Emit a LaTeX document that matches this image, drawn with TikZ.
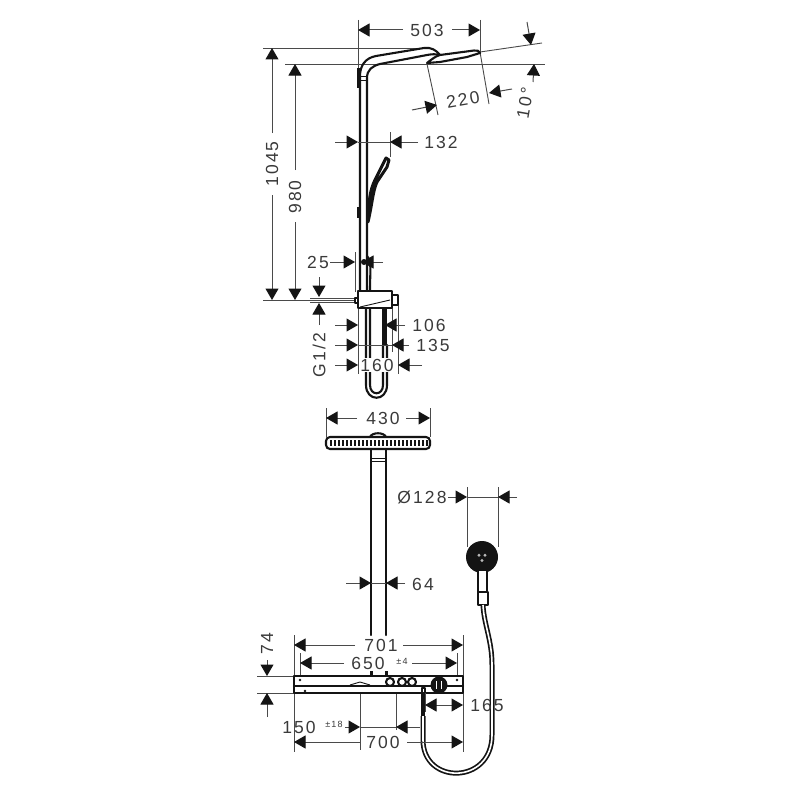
\documentclass[tikz,border=0pt]{standalone}
\usepackage{fontspec}
\setmainfont[LetterSpace=12]{Liberation Sans}
\usetikzlibrary{arrows.meta}
\definecolor{ink}{HTML}{141414}
\definecolor{dimc}{HTML}{4A4A4A}
\definecolor{txt}{HTML}{3A3A3A}
\tikzset{
  ext/.style={draw=dimc,line width=0.9pt},
  dimarrow/.style={draw=dimc,line width=1pt,-{Triangle[length=11.5pt,width=13pt,color=ink]}},
  lab/.style={text=txt,font=\fontsize{17.5}{17.5}\selectfont,inner sep=0pt},
  small/.style={text=txt,font=\fontsize{9}{9}\selectfont,inner sep=0pt},
  body/.style={draw=ink,line width=2.1pt,line join=round,line cap=round},
  heavy/.style={draw=ink,line width=3pt,line join=round,line cap=round},
  thin/.style={draw=ink,line width=0.9pt}
}
\begin{document}
\begin{tikzpicture}[x=1pt,y=-1pt]
\useasboundingbox (0,0) rectangle (800,800);
\fill[white] (0,0) rectangle (800,800);

% ---- side view: extension lines
\draw[ext] (358,20)--(358,70);
\draw[ext] (480,20)--(480,53);
\draw[ext] (263,48)--(430,48);
\draw[ext] (285,64)--(545,64);
\draw[ext] (263,300)--(355,300);
\draw[ext] (310,298)--(355,298);
\draw[ext] (310,302)--(355,302);
\draw[ext] (480,52)--(542,43);
\draw[ext] (427,64)--(438,115);
\draw[ext] (480,52)--(489,104);
\draw[ext] (390,132)--(390,157);
\draw[ext] (355,252)--(355,292);
\draw[ext] (358,308)--(358,374);
\draw[ext] (385,308)--(385,332);
\draw[ext] (392,308)--(392,352);
\draw[ext] (398,305)--(398,374);

% ---- side view: shower
\draw[body] (360,290)--(360,76) .. controls (360,66) and (365,58) .. (376,56)
  --(424,48) .. controls (431,47) and (436,50) .. (440,55);
\draw[body] (367,290)--(367,78) .. controls (367,70) and (372,66) .. (380,64)--(427,55)
  .. controls (432,54) and (436,54) .. (440,55);
\draw[body] (427,63) .. controls (432,59) and (436,56) .. (440,55)--(474,50.5)
  .. controls (477,50) and (480,51) .. (480,53)--(467,57)--(440,62)--cycle;
\fill[ink] (357,68) rectangle (361,88);
\fill[ink] (357,207) rectangle (361,218);
\draw[thin] (360,76)--(367,76);\draw[thin] (360,80)--(367,80);
% hand shower, side
\draw[heavy] (368,218) .. controls (369,200) and (370,190) .. (375,180)
  --(386,158)--(389,160)--(387,167)--(377,182) .. controls (373,190) and (372,205) .. (368,222);
\draw[thin] (371,206)--(374,190);
% holder
\draw[body] (367,256) .. controls (372,262) and (370,270) .. (370,291);
\draw[body] (360,256)--(360,291);
\fill[ink] (364,262) circle (3);
\draw[body,fill=white] (358,291) rectangle (392,308);
\draw[thin] (360,307)--(390,300);
\draw[body,fill=white] (392,295) rectangle (398,305);
\draw[body,fill=white] (355,298) rectangle (358,303);
% hose, side
\draw[body] (366,308)--(366,385) .. controls (366,402) and (387,402) .. (387,385)--(387,345);
\draw[body] (370,308)--(370,385) .. controls (370,396) and (383,396) .. (383,385)--(383,345);
\fill[ink] (382,308) rectangle (387,345);

% ---- side view: dimensions
\draw[dimarrow] (403,30)--(358,30);
\draw[dimarrow] (452,30)--(480,30);
\node[lab] (d503) at (427,30) {503};
\draw[dimarrow] (272,133)--(272,48);
\draw[dimarrow] (272,195)--(272,300);
\node[lab,rotate=90] (d1045) at (272,164) {1045};
\draw[dimarrow] (295,170)--(295,64);
\draw[dimarrow] (295,222)--(295,300);
\node[lab,rotate=90] (d980) at (295,197) {980};
\draw[dimarrow] (527,22)--(531,45);
\draw[dimarrow] (533,82)--(534,64);
\node[lab,rotate=80] (d10) at (525,103) {10°};
\draw[dimarrow] (412,110)--(437,105);
\draw[dimarrow] (512,89)--(489,93);
\node[lab,rotate=10] (d220) at (463,100) {220};
\draw[dimarrow] (335,142)--(358,142);
\draw[dimarrow] (418,142)--(390,142);
\draw[ext] (358,142)--(390,142);
\node[lab] (d132) at (441,142) {132};
\draw[dimarrow] (330,262)--(355,262);
\draw[dimarrow] (383,262)--(362,262);
\node[lab] (d25) at (318,262) {25};
\draw[dimarrow] (319,277)--(319,297);
\draw[dimarrow] (319,325)--(319,303);
\node[lab,rotate=90] (dg) at (319,355) {G1/2};
\draw[dimarrow] (335,325)--(358,325);
\draw[dimarrow] (405,325)--(385,325);
\node[lab] (d106) at (429,325) {106};
\draw[dimarrow] (335,345)--(358,345);
\draw[dimarrow] (409,345)--(392,345);
\draw[ext] (358,345)--(392,345);
\node[lab] (d135) at (433,345) {135};
\draw[dimarrow] (335,365)--(358,365);
\draw[dimarrow] (422,365)--(398,365);
\node[lab,fill=white,inner sep=1pt] (d160) at (377,365) {160};

% ---- front view
\draw[ext] (326,408)--(326,437);
\draw[ext] (430,408)--(430,437);
\draw[dimarrow] (357,418)--(326,418);
\draw[dimarrow] (406,418)--(430,418);
\node[lab] (d430) at (383,418) {430};
\draw[body,fill=white] (370,437) .. controls (372,432) and (384,432) .. (386,437);
\draw[body,fill=white,rounded corners=4pt] (326,437) rectangle (430,449);
\foreach \x in {331,335,...,427}{\draw[ink,line width=1.3pt] (\x,440)--(\x,446);}
\draw[body] (371,449)--(371,635);
\draw[body] (386,449)--(386,635);
\draw[thin] (371,458)--(386,458);
\draw[thin] (371,461)--(386,461);
\draw[dimarrow] (346,583)--(371,583);
\draw[dimarrow] (405,583)--(386,583);
\draw[ext] (371,583)--(386,583);
\node[lab] (d64) at (423,584) {64};

% ---- hand shower, front
\draw[ext] (467,487)--(467,547);
\draw[ext] (498,487)--(498,547);
\draw[ext] (467,497)--(498,497);
\draw[dimarrow] (448,497)--(467,497);
\draw[dimarrow] (517,497)--(498,497);
\node[lab] (d128) at (422,497) {Ø128};
\fill[ink] (482,557) circle (16);
\foreach \a in {90,210,330}{\fill[white!70!ink] (482,557)++(\a:3.5) circle (1.6);}
\draw[body,fill=white] (478,570) rectangle (487,592);
\draw[body,fill=white] (478,592) rectangle (488,605);
\draw[ink,line width=5pt] (483,605) .. controls (484,625) and (492,640) .. (492,665)
  --(492,735) .. controls (492,785) and (423,785) .. (423,740)--(423,716);
\draw[white,line width=1.6pt] (483,605) .. controls (484,625) and (492,640) .. (492,665)
  --(492,735) .. controls (492,785) and (423,785) .. (423,740)--(423,716);

% ---- thermostat bar
\draw[ext] (294,635)--(294,676);
\draw[ext] (463,635)--(463,676);
\draw[ext] (300,653)--(300,676);
\draw[ext] (457,653)--(457,676);
\draw[ext] (294,693)--(294,752);
\draw[ext] (463,693)--(463,752);
\draw[ext] (360,684)--(360,750);
\draw[ext] (396,693)--(396,730);
\draw[ext] (257,676)--(294,676);
\draw[ext] (257,693)--(294,693);
\fill[ink] (369.5,671) rectangle (372.5,676);
\fill[ink] (384.5,671) rectangle (387.5,676);
\draw[body,fill=white] (294,676) rectangle (463,693);
\draw[body] (294,686)--(463,686);
\fill[ink] (300,680) circle (1.3);
\fill[ink] (457,680) circle (1.3);
\fill[ink] (305,691) circle (1.3);
\foreach \x in {390,402,412}{\draw[body,fill=white] (\x,682) circle (4);}
\fill[ink] (439,685) circle (8.5);
\draw[white,line width=1pt] (436.5,681)--(436.5,689);
\draw[white,line width=1pt] (441.5,681)--(441.5,689);
\draw[thin] (350,685)--(360,682)--(370,685);
\draw[body,fill=white] (422,688) rectangle (425,693);
\fill[ink] (421,692) rectangle (425,716);

% ---- bar dimensions
\draw[dimarrow] (355,645)--(294,645);
\draw[dimarrow] (403,645)--(463,645);
\node[lab] (d701) at (381,645) {701};
\draw[dimarrow] (344,663)--(300,663);
\draw[dimarrow] (412,663)--(457,663);
\node[lab] (d650) at (368,663) {650};
\node[small] (tol4) at (402,661) {±4};
\draw[dimarrow] (267,660)--(267,676);
\draw[dimarrow] (267,717)--(267,693);
\node[lab,rotate=90] (d74) at (267,644) {74};
\draw[ext] (425,693)--(425,712);
\draw[dimarrow] (444,705)--(425,705);
\draw[dimarrow] (444,705)--(463,705);
\node[lab] (d165) at (487,705) {165};
\draw[ext] (360,727)--(396,727);
\draw[dimarrow] (345,727)--(360,727);
\draw[dimarrow] (420,727)--(396,727);
\node[lab] (d150) at (299,727) {150};
\node[small] (tol18) at (334,724) {±18};
\draw[dimarrow] (360,742)--(294,742);
\draw[dimarrow] (407,742)--(463,742);
\node[lab] (d700) at (383,742) {700};
\end{tikzpicture}
\end{document}
